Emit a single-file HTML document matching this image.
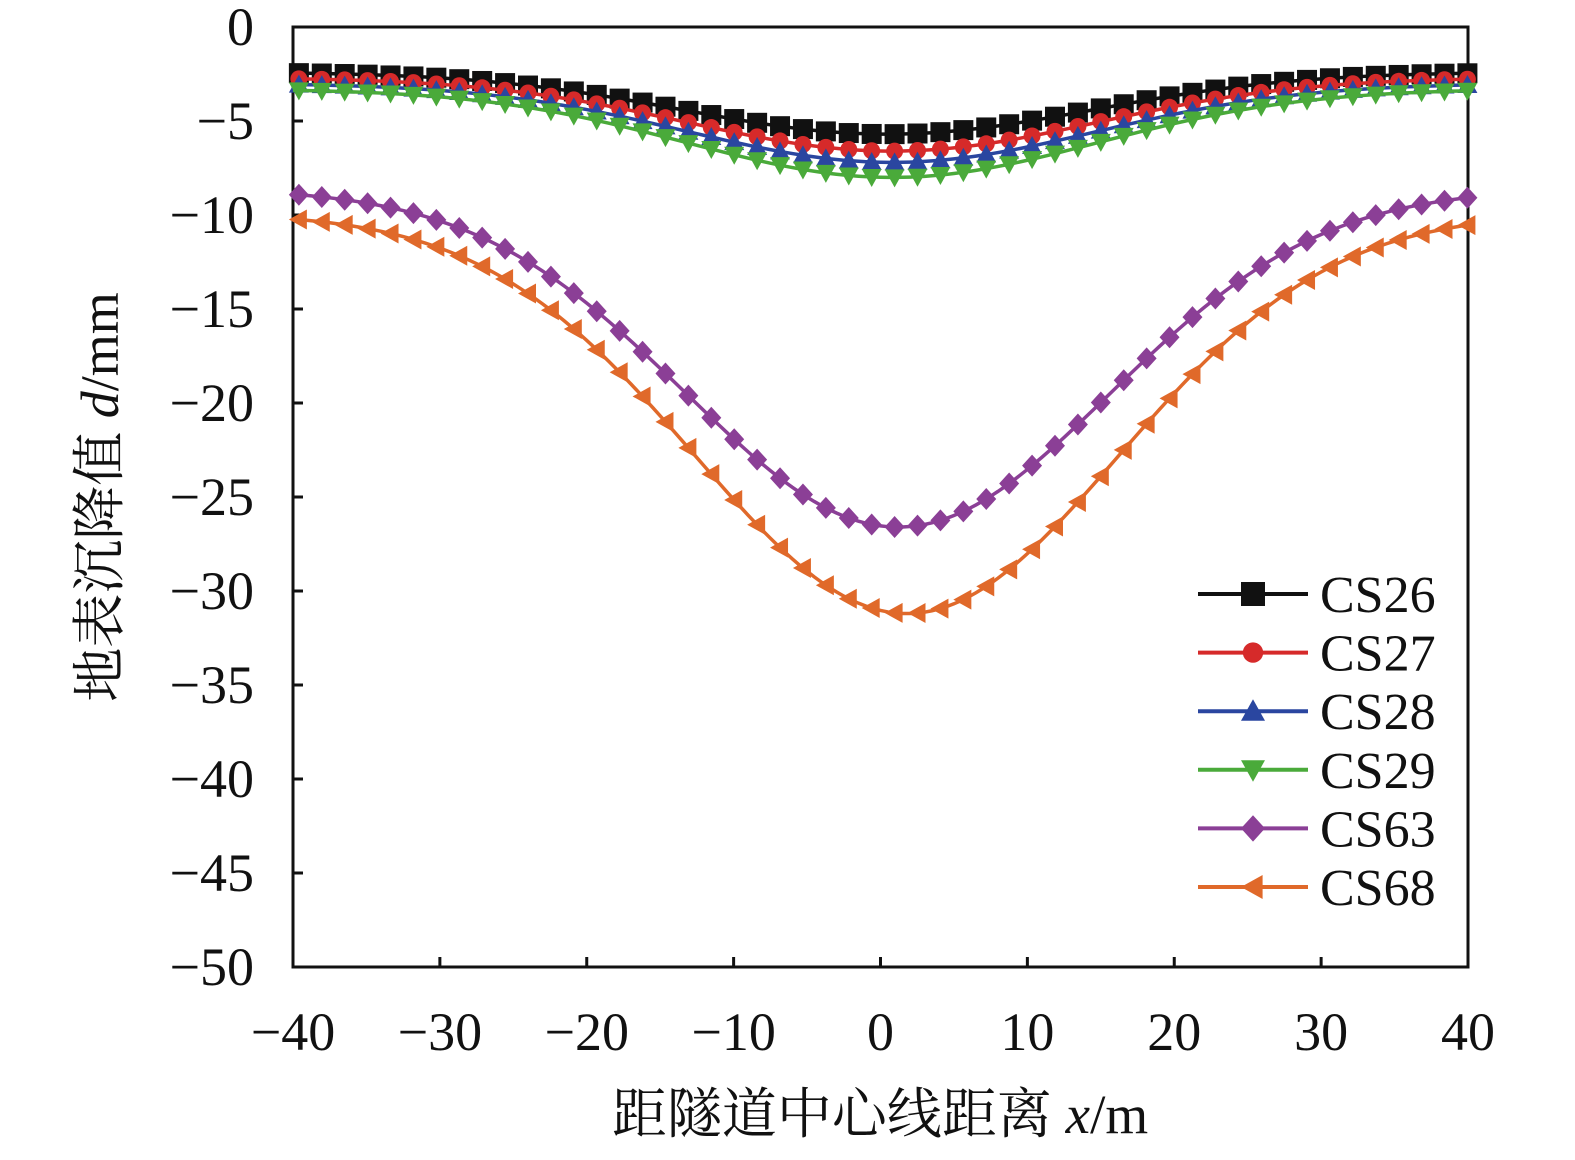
<!DOCTYPE html>
<html><head><meta charset="utf-8"><style>
body{margin:0;background:#fff}
svg text{font-family:"Liberation Serif","Noto Serif CJK SC",serif}
</style></head><body>
<svg id="s" width="1575" height="1155" xmlns="http://www.w3.org/2000/svg">
<rect x="293" y="27" width="1175" height="940" fill="none" stroke="#111" stroke-width="3"/>
<g id="ticks" stroke="#111" stroke-width="3"></g>
<g id="labels" font-size="54" fill="#111"></g>
<g id="series"></g>
<text x="880" y="1133" font-size="55" text-anchor="middle" fill="#111">距隧道中心线距离 <tspan font-style="italic">x</tspan>/m</text>
<text transform="translate(118,497) rotate(-90)" font-size="54" text-anchor="middle" fill="#111">地表沉降值 <tspan font-style="italic">d</tspan>/mm</text>
<g id="legend" font-size="52" fill="#111"></g>
</svg>
<script>
const NS="http://www.w3.org/2000/svg";
function el(t,a,p,txt){const e=document.createElementNS(NS,t);for(const k in a)e.setAttribute(k,a[k]);if(txt!=null)e.textContent=txt;document.getElementById(p).appendChild(e);return e;}
const X=x=>293+(x+40)*1175/80, Y=d=>27-d*18.8;
for(let v=-40;v<=40;v+=10){el('line',{x1:X(v),y1:967,x2:X(v),y2:957},'ticks');el('text',{x:X(v),y:1050,'text-anchor':'middle'},'labels',(v<0?'−':'')+Math.abs(v));}
for(let v=0;v>=-50;v-=5){el('line',{x1:293,y1:Y(v),x2:303,y2:Y(v)},'ticks');el('text',{x:254,y:Y(v)+18,'text-anchor':'end'},'labels',(v<0?'−':'')+Math.abs(v));}
const S=[
 ['CS26','#111','sq',-2.4,-3.3,0.5,14],
 ['CS27','#d62a2a','ci',-2.7,-3.9,0.8,14],
 ['CS28','#2a46a0','tu',-3.0,-4.2,0.8,14],
 ['CS29','#4aaa3a','td',-3.3,-4.7,0.8,14],
 ['CS63','#8b3f96','di',-8.6,-18.0,1.2,14.4],
 ['CS68','#e0692a','tl',-9.9,-21.3,1.8,14.4]];
function mk(type,cx,cy,c,g,r){
 r=r||10;
 if(type=='sq')el('rect',{x:cx-r,y:cy-r,width:2*r,height:2*r,fill:c},g);
 else if(type=='ci')el('circle',{cx,cy,r:r*0.85,fill:c},g);
 else if(type=='tu')el('polygon',{points:`${cx},${cy-r} ${cx-r},${cy+r*0.8} ${cx+r},${cy+r*0.8}`,fill:c},g);
 else if(type=='td')el('polygon',{points:`${cx},${cy+r} ${cx-r},${cy-r*0.8} ${cx+r},${cy-r*0.8}`,fill:c},g);
 else if(type=='di')el('polygon',{points:`${cx},${cy-r*1.1} ${cx+r},${cy} ${cx},${cy+r*1.1} ${cx-r},${cy}`,fill:c},g);
 else if(type=='tl')el('polygon',{points:`${cx-r},${cy} ${cx+r*0.8},${cy-r} ${cx+r*0.8},${cy+r}`,fill:c},g);
}
S.forEach((s,i)=>{
 const [n,c,t,a,b,m,sg]=s;const f=x=>a+b*Math.exp(-((x-m)**2)/(2*sg*sg));
 let pts=[];for(let x=-40;x<=40.01;x+=0.5)pts.push(X(x)+','+Y(f(x)));
 el('polyline',{points:pts.join(' '),fill:'none',stroke:c,'stroke-width':3.5},'series');
 for(let x=-39.6;x<=40;x+=1.56)mk(t,X(x),Y(f(x)),c,'series',10);
 const ly=594+i*58.6;
 el('line',{x1:1198,y1:ly,x2:1308,y2:ly,stroke:c,'stroke-width':4},'legend');
 mk(t,1253,ly,c,'legend',12);
 el('text',{x:1320,y:ly+18},'legend',n);
});
</script>
</body></html>
